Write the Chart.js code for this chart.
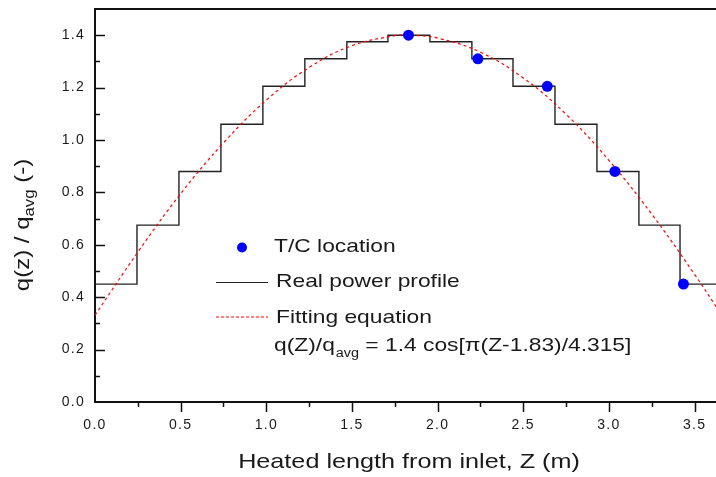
<!DOCTYPE html>
<html>
<head>
<meta charset="utf-8">
<script src="https://cdn.jsdelivr.net/npm/chart.js@4"></script>
<style>
  body { margin: 0; background: #fff; }
  #wrap { width: 716px; height: 477px; }
</style>
</head>
<body>
<div id="wrap"><canvas id="myChart"></canvas></div>
<script>
// step profile: edges of the 15 axial zones and relative power in each zone
const stepEdges = [0, 0.245, 0.49, 0.735, 0.98, 1.225, 1.47, 1.71, 1.955, 2.2, 2.44, 2.685, 2.93, 3.175, 3.415, 3.66];
const stepValues = [0.45, 0.675, 0.88, 1.06, 1.205, 1.31, 1.375, 1.40, 1.375, 1.31, 1.205, 1.06, 0.88, 0.675, 0.45];
// thermocouple positions
const tcZ = [1.83, 2.235, 2.64, 3.035, 3.435];
const tcValues = [1.40, 1.31, 1.205, 0.88, 0.45];
// fitting curve
const fitZ = [0, 0.25, 0.5, 0.75, 1.0, 1.25, 1.5, 1.75, 1.83, 2.0, 2.25, 2.5, 2.75, 3.0, 3.25, 3.5, 3.66];
const fitValues = [0.331, 0.572, 0.795, 0.989, 1.152, 1.277, 1.36, 1.398, 1.40, 1.389, 1.335, 1.237, 1.098, 0.922, 0.717, 0.487, 0.33];
const yTicks = [0, 0.2, 0.4, 0.6, 0.8, 1.0, 1.2, 1.4];
const xTicks = [0, 0.5, 1.0, 1.5, 2.0, 2.5, 3.0, 3.5];

const stepData = stepEdges.map((z, i) => ({ x: z, y: stepValues[Math.min(i, stepValues.length - 1)] }));
const tcData = tcZ.map((z, i) => ({ x: z, y: tcValues[i] }));
const fitData = fitZ.map((z, i) => ({ x: z, y: fitValues[i] }));

const FONT = '"Liberation Sans", Arial, sans-serif';
const TXT = '#1a1a1a';
const SX = 1.2; // the original text is a little stretched sideways

// draw text stretched horizontally, x is the left edge (or centre if centred)
function wideText(c, str, x, y, size, centred) {
  c.save();
  c.font = size + 'px ' + FONT;
  const w = c.measureText(str).width * SX;
  c.translate(centred ? x - w / 2 : x, y);
  c.scale(SX, 1);
  c.textAlign = 'left';
  c.fillText(str, 0, 0);
  c.restore();
  return w;
}

const extras = {
  id: 'extras',
  beforeDraw(chart) {
    chart.ctx.letterSpacing = '1.3px';
  },
  afterDraw(chart) {
    const c = chart.ctx, a = chart.chartArea;
    const xs = chart.scales.x, ys = chart.scales.y;
    c.save();
    c.letterSpacing = '0px';
    c.strokeStyle = '#111';
    c.lineWidth = 1.5;
    c.beginPath();
    for (let v = 0.1; v < 1.5; v += 0.1) {
      const y = Math.round(ys.getPixelForValue(v)) + 0.5;
      const major = Math.abs(v / 0.2 - Math.round(v / 0.2)) < 0.01;
      c.moveTo(a.left, y); c.lineTo(a.left + (major ? 10 : 5), y);
    }
    for (let v = 0.25; v < 3.63; v += 0.25) {
      const x = Math.round(xs.getPixelForValue(v)) + 0.5;
      const major = Math.abs(v / 0.5 - Math.round(v / 0.5)) < 0.01;
      c.moveTo(x, a.bottom); c.lineTo(x, a.bottom + (major ? 10 : 5));
    }
    c.stroke();
    // top frame
    c.lineWidth = 2;
    c.beginPath();
    c.moveTo(a.left, a.top); c.lineTo(a.right, a.top);
    c.stroke();

    c.fillStyle = TXT;
    c.textBaseline = 'alphabetic';
    // x title
    wideText(c, 'Heated length from inlet, Z (m)', 409, 468, 21, true);

    // y title with subscript, rotated
    c.save();
    c.translate(29, 225);
    c.rotate(-Math.PI / 2);
    c.font = '20px ' + FONT;
    const w1 = c.measureText('q(z) / q').width * SX;
    const w3 = c.measureText(' (-)').width * SX;
    c.font = '14px ' + FONT;
    const w2 = c.measureText('avg').width * SX;
    let x0 = -(w1 + w2 + w3) / 2;
    x0 += wideText(c, 'q(z) / q', x0, 0, 20);
    x0 += wideText(c, 'avg', x0, 5, 14);
    wideText(c, ' (-)', x0, 0, 20);
    c.restore();

    // legend
    c.fillStyle = '#0000ff';
    c.beginPath(); c.arc(242, 247.5, 5, 0, Math.PI * 2); c.fill();
    c.fillStyle = TXT;
    wideText(c, 'T/C location', 274, 252, 19);
    c.strokeStyle = '#222'; c.lineWidth = 1.2;
    c.beginPath(); c.moveTo(216, 282.5); c.lineTo(268, 282.5); c.stroke();
    wideText(c, 'Real power profile', 276, 287, 19);
    c.strokeStyle = '#ff0000'; c.setLineDash([3, 2]);
    c.beginPath(); c.moveTo(216, 317); c.lineTo(268, 317); c.stroke();
    c.setLineDash([]);
    wideText(c, 'Fitting equation', 276, 323, 19);
    let ex = 274;
    ex += wideText(c, 'q(Z)/q', ex, 351, 19);
    ex += wideText(c, 'avg', ex + 1, 357, 12) + 1;
    wideText(c, ' = 1.4 cos[\u03c0(Z-1.83)/4.315]', ex, 351, 19);
    c.restore();
  }
};

new Chart(document.getElementById('myChart'), {
  type: 'scatter',
  data: {
    datasets: [
      {
        label: 'T/C location',
        data: tcData,
        showLine: false,
        pointRadius: 5.5,
        pointBackgroundColor: '#0000ff',
        pointBorderWidth: 0,
        order: 0
      },
      {
        label: 'Fitting equation',
        data: fitData,
        showLine: true,
        borderColor: '#ff0000',
        borderWidth: 1.2,
        borderDash: [3, 3],
        tension: 0.4,
        pointRadius: 0,
        order: 1
      },
      {
        label: 'Real power profile',
        data: stepData,
        showLine: true,
        stepped: true,
        borderColor: '#222',
        borderWidth: 1.4,
        pointRadius: 0,
        order: 2
      }
    ]
  },
  options: {
    responsive: true,
    maintainAspectRatio: false,
    animation: false,
    layout: { autoPadding: false, padding: { top: 9, right: 0, left: 0, bottom: 0 } },
    plugins: { legend: { display: false }, tooltip: { enabled: false } },
    scales: {
      x: {
        type: 'linear',
        min: 0,
        max: 3.625,
        afterBuildTicks: s => { s.ticks = xTicks.map(v => ({ value: v })); },
        afterFit: s => { s.height = 75; s.paddingLeft = 0; s.paddingRight = 0; },
        grid: { display: false },
        border: { display: true, color: '#111', width: 2 },
        ticks: {
          color: TXT,
          font: { family: FONT, size: 14 },
          padding: 7,
          maxRotation: 0,
          callback: v => v.toFixed(1)
        }
      },
      y: {
        min: 0,
        max: 1.5,
        afterBuildTicks: s => { s.ticks = yTicks.map(v => ({ value: v })); },
        afterFit: s => { s.width = 95; s.paddingTop = 0; s.paddingBottom = 0; },
        grid: { display: false, drawTicks: false },
        border: { display: true, color: '#111', width: 2 },
        ticks: {
          color: TXT,
          font: { family: FONT, size: 14 },
          padding: 10,
          callback: v => v.toFixed(1)
        }
      }
    }
  },
  plugins: [extras]
});
</script>
</body>
</html>
